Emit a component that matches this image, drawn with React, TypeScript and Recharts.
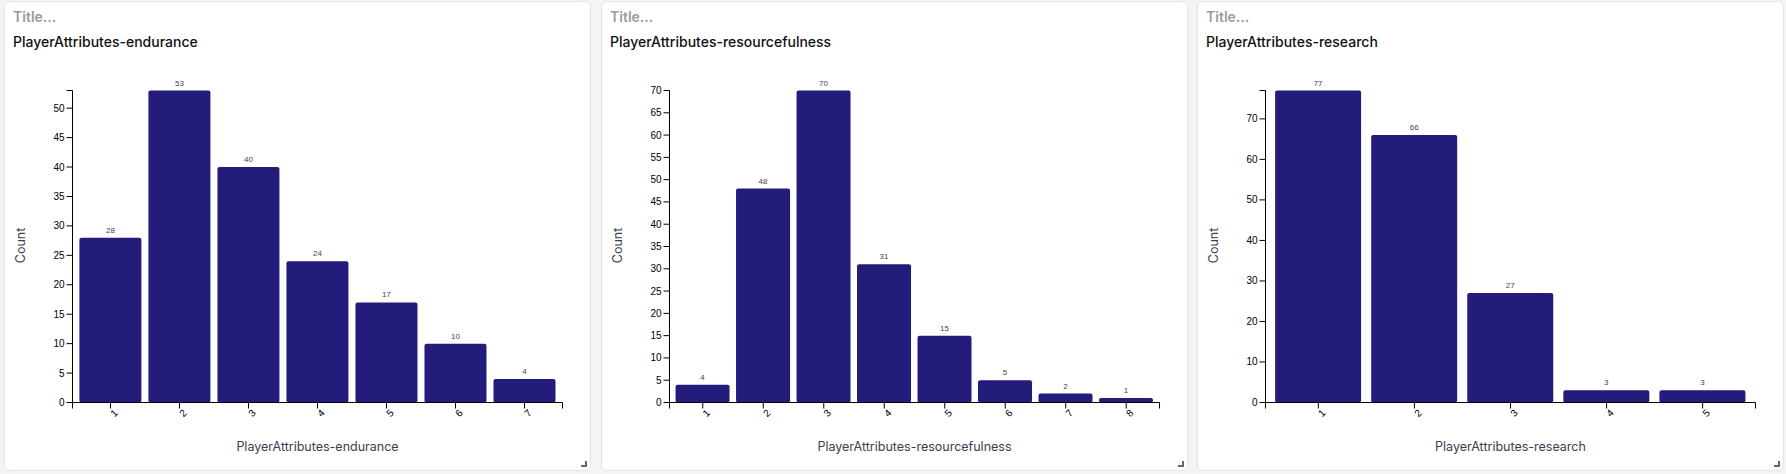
import React from 'react';
import { BarChart, Bar, XAxis, YAxis, LabelList } from 'recharts';

// ---------- data ----------
const enduranceCategories = ['1', '2', '3', '4', '5', '6', '7'];
const enduranceCounts = [28, 53, 40, 24, 17, 10, 4];

const resourcefulnessCategories = ['1', '2', '3', '4', '5', '6', '7', '8'];
const resourcefulnessCounts = [4, 48, 70, 31, 15, 5, 2, 1];

const researchCategories = ['1', '2', '3', '4', '5'];
const researchCounts = [77, 66, 27, 3, 3];

const panelTitles = ['PlayerAttributes-endurance', 'PlayerAttributes-resourcefulness', 'PlayerAttributes-research'];
const yTickSteps = [5, 5, 10];
const placeholderTitle = 'Title...';
const yAxisLabel = 'Count';

// ---------- layout / style ----------
const BAR_COLOR = '#231c7a';
const CHART_W = 585;
const CHART_H = 468;
const MARGIN = { top: 88.5, right: 27.5, bottom: 0, left: 0 };
const Y_AXIS_W = 67.5;
const X_AXIS_H = 67.5;
const PLOT_LEFT = MARGIN.left + Y_AXIS_W;
const PLOT_RIGHT = CHART_W - MARGIN.right;
const PLOT_W = PLOT_RIGHT - PLOT_LEFT;
const PLOT_BOTTOM = CHART_H - X_AXIS_H - MARGIN.bottom;
const TICK_FONT = '"Liberation Sans", Arial, sans-serif';
const UI_FONT = 'Inter, "Noto Sans", sans-serif';

const makeYTick = (step: number) => (props: any) => {
  const { x, y, payload } = props;
  const v = payload.value;
  if (v % step !== 0) return <g />;
  return (
    <text x={x} y={y} textAnchor="end" dominantBaseline="central" fontSize={10} fontFamily={TICK_FONT} fill="#000">
      {v}
    </text>
  );
};

const makeXTick = (n: number) => (props: any) => {
  const { x, payload, index } = props;
  const cy = PLOT_BOTTOM + 10.5;
  const cx = x + 3.5;
  return (
    <g>
      {index === 0 && <line x1={PLOT_LEFT} x2={PLOT_LEFT} y1={PLOT_BOTTOM} y2={PLOT_BOTTOM + 6} stroke="#000" />}
      {index === n - 1 && <line x1={PLOT_RIGHT} x2={PLOT_RIGHT} y1={PLOT_BOTTOM} y2={PLOT_BOTTOM + 6} stroke="#000" />}
      <text
        x={cx}
        y={cy}
        textAnchor="middle"
        dominantBaseline="central"
        transform={`rotate(-45, ${cx}, ${cy})`}
        fontSize={10}
        fontFamily={TICK_FONT}
        fill="#000"
      >
        {payload.value}
      </text>
    </g>
  );
};

const YLabel = (props: any) => {
  const vb = props.viewBox || {};
  const cx = (vb.x || 0) + 15.5;
  const cy = (vb.y || 0) + (vb.height || 0) / 2 - 1;
  return (
    <text
      x={cx}
      y={cy}
      textAnchor="middle"
      dominantBaseline="central"
      transform={`rotate(-90, ${cx}, ${cy})`}
      fontSize={12.5}
      fontFamily={UI_FONT}
      fill="#374151"
    >
      {yAxisLabel}
    </text>
  );
};

const makeXLabel = (text: string) => (props: any) => {
  const vb = props.viewBox || {};
  const cx = (vb.x || 0) + (vb.width || 0) / 2;
  const cy = (vb.y || 0) + 43.5;
  return (
    <text x={cx} y={cy} textAnchor="middle" dominantBaseline="central" fontSize={12.5} fontFamily={UI_FONT} fill="#374151">
      {text}
    </text>
  );
};

type PanelProps = {
  left: number;
  title: string;
  categories: string[];
  counts: number[];
  step: number;
};

const Panel = ({ left, title, categories, counts, step }: PanelProps) => {
  const data = categories.map((c, i) => ({ category: c, count: counts[i] }));
  const max = Math.max(...counts);
  const ticks: number[] = [];
  for (let v = 0; v <= max; v += step) ticks.push(v);
  if (ticks[ticks.length - 1] !== max) ticks.push(max);
  const n = categories.length;
  const pad = (0.05 * PLOT_W) / (n + 0.1);

  return (
    <div
      style={{
        position: 'absolute',
        left,
        top: 1,
        width: 587,
        height: 470,
        boxSizing: 'border-box',
        border: '1px solid #e3e5ea',
        borderRadius: 6,
        background: '#fff',
      }}
    >
      <div
        style={{
          position: 'absolute',
          left: 8,
          top: 5.5,
          lineHeight: '18px',
          fontSize: 14,
          fontWeight: 600,
          fontFamily: UI_FONT,
          color: '#9a9ca3',
        }}
      >
        {placeholderTitle}
      </div>
      <div
        style={{
          position: 'absolute',
          left: 8,
          top: 30.5,
          lineHeight: '18px',
          fontSize: 14,
          fontWeight: 500,
          fontFamily: UI_FONT,
          color: '#111',
        }}
      >
        {title}
      </div>
      <div style={{ position: 'absolute', left: 0, top: 0 }}>
        <BarChart width={CHART_W} height={CHART_H} data={data} margin={MARGIN} barCategoryGap="5%">
          <XAxis
            dataKey="category"
            type="category"
            height={X_AXIS_H}
            padding={{ left: pad, right: pad }}
            interval={0}
            stroke="#000"
            tickSize={6}
            tick={makeXTick(n)}
            label={{ content: makeXLabel(title) } as any}
          />
          <YAxis
            type="number"
            width={Y_AXIS_W}
            domain={[0, max]}
            ticks={ticks}
            interval={0}
            stroke="#000"
            tickSize={6}
            tickMargin={2}
            tick={makeYTick(step)}
            label={{ content: YLabel } as any}
          />
          <Bar dataKey="count" fill={BAR_COLOR} radius={2} isAnimationActive={false}>
            <LabelList dataKey="count" position="top" offset={5} fontSize={8} fontFamily={TICK_FONT} fill="#444" />
          </Bar>
        </BarChart>
      </div>
      <div
        style={{
          position: 'absolute',
          right: 3.5,
          bottom: 3.5,
          width: 4,
          height: 4,
          borderRight: '2px solid #666',
          borderBottom: '2px solid #666',
        }}
      />
    </div>
  );
};

export default function App() {
  return (
    <div
      style={{
        position: 'absolute',
        left: 0,
        top: 0,
        width: 1786,
        height: 474,
        background: '#f3f4f6',
        overflow: 'hidden',
      }}
    >
      <Panel left={4} title={panelTitles[0]} categories={enduranceCategories} counts={enduranceCounts} step={yTickSteps[0]} />
      <Panel left={601} title={panelTitles[1]} categories={resourcefulnessCategories} counts={resourcefulnessCounts} step={yTickSteps[1]} />
      <Panel left={1197} title={panelTitles[2]} categories={researchCategories} counts={researchCounts} step={yTickSteps[2]} />
    </div>
  );
}
